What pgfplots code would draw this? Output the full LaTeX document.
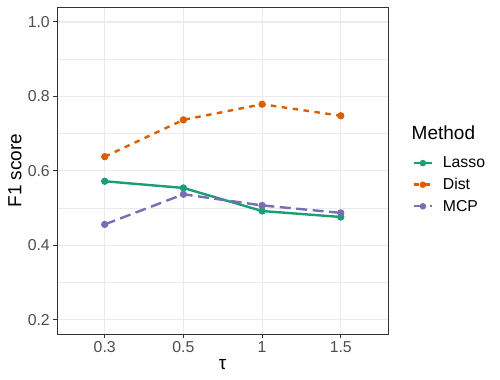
\documentclass[border=0pt]{standalone}
\usepackage{fontspec}
\setmainfont{Liberation Sans}
\usepackage{pgfplots}
\pgfplotsset{compat=1.18}
\definecolor{cLasso}{HTML}{1B9E77}
\definecolor{cDist}{HTML}{D95F02}
\definecolor{cMCP}{HTML}{7570B3}
\definecolor{gridgray}{HTML}{EBEBEB}
\definecolor{framegray}{HTML}{333333}
\definecolor{tickgray}{HTML}{4D4D4D}
\newcommand{\ticksize}{\fontsize{15.8bp}{18bp}\selectfont}
\newcommand{\titlesize}{\fontsize{19bp}{22bp}\selectfont}

\begin{document}
\begin{tikzpicture}
\useasboundingbox (0,0) rectangle (500bp,380bp);
\begin{axis}[
  at={(57.5bp,46bp)}, anchor=south west,
  scale only axis, width=330.5bp, height=326.7bp,
  xmin=0.4, xmax=4.6, ymin=0.1615, ymax=1.0395,
  xtick={1,2,3,4}, xticklabels={0.3,0.5,1,1.5},
  ytick={0.2,0.4,0.6,0.8,1.0}, yticklabels={0.2,0.4,0.6,0.8,1.0},
  minor ytick={0.3,0.5,0.7,0.9},
  xmajorgrids, ymajorgrids, yminorgrids,
  major grid style={color=gridgray, line width=1.07bp},
  minor grid style={color=gridgray, line width=0.53bp},
  axis line style={color=framegray, line width=0.8bp},
  tick style={color=framegray, line width=1bp},
  major tick length=4.2bp, minor tick length=0pt,
  tick align=outside, xtick pos=bottom, ytick pos=left,
  tick label style={font=\ticksize, text=tickgray},
  /pgf/number format/assume math mode=true,
  xlabel={τ},
  xlabel style={at={(axis description cs:0.5,-0.0949)}, anchor=center, font=\titlesize},
  ylabel={F1 score},
  ylabel style={at={(axis description cs:-0.1286,0.5)}, anchor=center, font=\titlesize},
  legend style={at={(1.0747,0.457)}, anchor=west, draw=none, fill=none,
    inner sep=0pt, outer sep=0pt, font=\ticksize, row sep=0pt,
    nodes={inner sep=0pt, minimum height=21.6bp}},
  legend cell align=left,
  legend image code/.code={%
    \path[draw=none, fill=none] (0bp,0bp) -- (29bp,0bp);
    \draw[mark repeat=2, mark phase=2, #1] plot coordinates {(0bp,0bp) (9bp,0bp) (18bp,0bp)};},
  every legend image post/.style={mark size=2bp},
]
\addplot[cLasso, line width=2.4bp, mark=*, mark size=2.4bp, mark options={solid, fill=cLasso}]
  coordinates {(1,0.572) (2,0.554) (3,0.492) (4,0.476)};
\addlegendentry{Lasso}
\addplot[cDist, line width=2.4bp, dash pattern=on 5.5bp off 5.5bp, mark=*, mark size=2.4bp, mark options={solid, fill=cDist}]
  coordinates {(1,0.638) (2,0.737) (3,0.779) (4,0.748)};
\addlegendentry{Dist}
\addplot[cMCP, line width=2.4bp, dash pattern=on 11bp off 5.5bp, mark=*, mark size=2.4bp, mark options={solid, fill=cMCP}]
  coordinates {(1,0.456) (2,0.537) (3,0.507) (4,0.487)};
\addlegendentry{MCP}
\end{axis}
\node[anchor=west, inner sep=0pt, font=\titlesize] at (411.5bp,247bp) {Method};
\end{tikzpicture}
\end{document}
